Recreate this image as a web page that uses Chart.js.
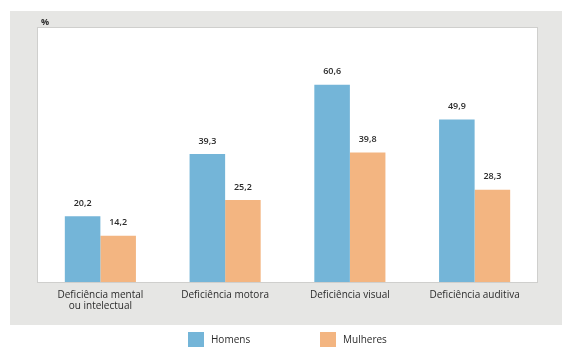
<!DOCTYPE html>
<html>
<head>
<meta charset="utf-8">
<script src="https://cdn.jsdelivr.net/npm/chart.js@4"></script>
<style>
  html, body { margin: 0; padding: 0; background: #fff; }
  #wrap { width: 569px; height: 357px; }
</style>
</head>
<body>
<div id="wrap"><canvas id="chart"></canvas></div>
<script>
const categories = [
  ["Deficiência mental", "ou intelectual"],
  "Deficiência motora",
  "Deficiência visual",
  "Deficiência auditiva"
];
const seriesNames = ["Homens", "Mulheres"];
const homens = [20.2, 39.3, 60.6, 49.9];
const mulheres = [14.2, 25.2, 39.8, 28.3];
const unitLabel = "%";

const FONT = "'Open Sans', 'Noto Sans', sans-serif";
const TEXT = "#2b2b2b";

// grey panel + white plot box behind the bars
const panelBg = {
  id: "panelBg",
  beforeDraw(chart) {
    const { ctx, chartArea } = chart;
    ctx.save();
    ctx.fillStyle = "#e6e6e4";
    ctx.fillRect(10, 11, 552, 314);
    ctx.fillStyle = "#ffffff";
    ctx.fillRect(chartArea.left, chartArea.top, chartArea.right - chartArea.left, chartArea.bottom - chartArea.top);
    ctx.strokeStyle = "#cfcfcd";
    ctx.lineWidth = 1;
    ctx.strokeRect(chartArea.left - 0.5, chartArea.top - 0.5, chartArea.right - chartArea.left + 1, chartArea.bottom - chartArea.top + 1);
    ctx.fillStyle = TEXT;
    ctx.font = "bold 9px " + FONT;
    ctx.textAlign = "left";
    ctx.textBaseline = "middle";
    ctx.fillText(unitLabel, chartArea.left + 3, chartArea.top - 6);
    ctx.restore();
  }
};

// value labels above bars, decimal comma
const valueLabels = {
  id: "valueLabels",
  afterDatasetsDraw(chart) {
    const { ctx } = chart;
    ctx.save();
    ctx.fillStyle = TEXT;
    ctx.font = "600 9px " + FONT;
    ctx.textAlign = "center";
    ctx.textBaseline = "middle";
    chart.data.datasets.forEach((ds, i) => {
      chart.getDatasetMeta(i).data.forEach((bar, j) => {
        ctx.fillText(ds.data[j].toFixed(1).replace(".", ","), bar.x, bar.y - 13);
      });
    });
    ctx.restore();
  }
};

// legend under the panel
const bottomLegend = {
  id: "bottomLegend",
  afterDraw(chart) {
    const { ctx } = chart;
    const xs = [188, 320];
    ctx.save();
    ctx.font = "10px " + FONT;
    ctx.textAlign = "left";
    ctx.textBaseline = "middle";
    chart.data.datasets.forEach((ds, i) => {
      ctx.fillStyle = ds.backgroundColor;
      ctx.fillRect(xs[i], 332, 16, 15);
      ctx.fillStyle = TEXT;
      ctx.fillText(ds.label, xs[i] + 23, 340);
    });
    ctx.restore();
  }
};

new Chart(document.getElementById("chart"), {
  type: "bar",
  data: {
    labels: categories,
    datasets: [
      { label: seriesNames[0], data: homens, backgroundColor: "#74b5d8" },
      { label: seriesNames[1], data: mulheres, backgroundColor: "#f3b581" }
    ]
  },
  options: {
    responsive: true,
    maintainAspectRatio: false,
    animation: false,
    categoryPercentage: 0.57,
    barPercentage: 1,
    layout: { padding: { left: 38, right: 32, top: 28, bottom: 0 } },
    plugins: {
      legend: { display: false },
      tooltip: { enabled: false }
    },
    scales: {
      x: {
        grid: { display: false, drawTicks: false },
        border: { display: false },
        ticks: { color: TEXT, font: { family: FONT, size: 10, lineHeight: 1.1 }, padding: 8, maxRotation: 0 },
        afterFit(scale) { scale.height = 75; }
      },
      y: {
        display: false,
        min: 0,
        max: 78
      }
    }
  },
  plugins: [panelBg, valueLabels, bottomLegend]
});
</script>
</body>
</html>
